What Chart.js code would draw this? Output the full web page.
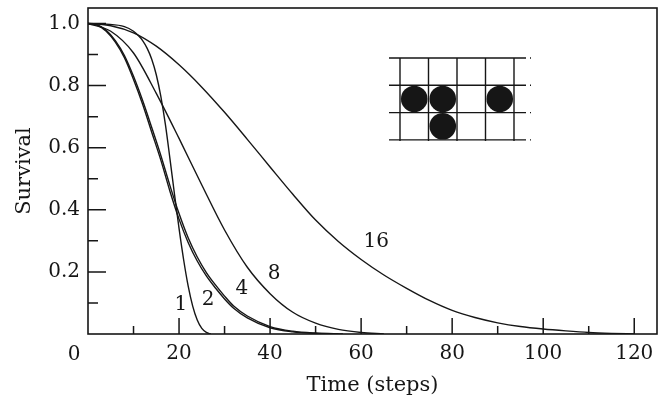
<!DOCTYPE html>
<html>
<head>
<meta charset="utf-8">
<script src="https://cdn.jsdelivr.net/npm/chart.js@4.4.1/dist/chart.umd.min.js"></script>
<style>
  html, body { margin: 0; padding: 0; background: #fff; }
</style>
</head>
<body>
<canvas id="chart" width="659" height="406"></canvas>
<script>
// survival vs. time, one curve per cluster size
const t1 = [0, 4, 8, 10, 11, 12, 13, 14, 15, 16, 17, 18, 19, 20, 21, 22, 23, 24, 25, 26, 27];
const s1 = [1.0, 0.998, 0.99, 0.975, 0.962, 0.945, 0.92, 0.885, 0.835, 0.765, 0.675, 0.565, 0.45, 0.34, 0.24, 0.155, 0.09, 0.045, 0.018, 0.005, 0];

const t2 = [0, 2, 4, 6, 8, 10, 12, 14, 16, 18, 20, 22, 24, 26, 28, 30, 32, 35, 40, 45, 50, 55];
const s2 = [1.0, 0.995, 0.975, 0.94, 0.89, 0.82, 0.74, 0.65, 0.56, 0.46, 0.37, 0.295, 0.235, 0.187, 0.148, 0.113, 0.083, 0.052, 0.02, 0.007, 0.002, 0];

const t4 = [0, 2, 4, 6, 8, 10, 12, 14, 16, 18, 20, 22, 24, 26, 28, 30, 32, 35, 40, 45, 50, 56];
const s4 = [1.0, 0.996, 0.978, 0.945, 0.897, 0.83, 0.752, 0.665, 0.575, 0.478, 0.388, 0.31, 0.248, 0.198, 0.158, 0.122, 0.09, 0.058, 0.024, 0.009, 0.003, 0];

const t8 = [0, 5, 10, 15, 20, 25, 30, 35, 40, 45, 50, 55, 60, 65];
const s8 = [1.0, 0.975, 0.905, 0.775, 0.63, 0.48, 0.335, 0.215, 0.13, 0.07, 0.035, 0.015, 0.005, 0];

const t16 = [0, 5, 10, 15, 20, 25, 30, 35, 40, 45, 50, 55, 60, 65, 70, 75, 80, 85, 90, 95, 100, 105, 110, 115, 120];
const s16 = [1.0, 0.993, 0.97, 0.927, 0.867, 0.795, 0.714, 0.627, 0.538, 0.45, 0.367, 0.298, 0.24, 0.19, 0.147, 0.108, 0.076, 0.053, 0.036, 0.024, 0.016, 0.01, 0.005, 0.002, 0];

const curveNames = ['1', '2', '4', '8', '16'];
const curveT = [t1, t2, t4, t8, t16];
const curveS = [s1, s2, s4, s8, s16];
// where each curve's name is written (time, survival)
const nameT = [20.4, 26.4, 33.8, 40.9, 63.3];
const nameS = [0.093, 0.109, 0.145, 0.193, 0.296];

const xMajor = [20, 40, 60, 80, 100, 120];
const xMinor = [10, 30, 50, 70, 90, 110];
const yMajor = [0.2, 0.4, 0.6, 0.8, 1.0];
const yMinor = [0.1, 0.3, 0.5, 0.7, 0.9];

// lattice sketch: 4 x 3 cells, filled cells as [col, row]
const latticeCols = 4, latticeRows = 3;
const filledCells = [[0, 1], [1, 1], [3, 1], [1, 2]];

const ink = '#161616';
const serif = 'DejaVu Serif';

const decorations = {
  id: 'decorations',
  afterDatasetsDraw(chart) {
    const { ctx, chartArea: a, scales: { x, y } } = chart;
    ctx.save();
    ctx.strokeStyle = ink;
    ctx.fillStyle = ink;

    // frame
    ctx.lineWidth = 1.6;
    ctx.strokeRect(a.left, a.top, a.right - a.left, a.bottom - a.top);

    // inward ticks
    ctx.lineWidth = 1.5;
    ctx.beginPath();
    xMajor.forEach(v => { const px = x.getPixelForValue(v); ctx.moveTo(px, a.bottom); ctx.lineTo(px, a.bottom - 16); });
    xMinor.forEach(v => { const px = x.getPixelForValue(v); ctx.moveTo(px, a.bottom); ctx.lineTo(px, a.bottom - 8); });
    yMajor.forEach(v => { const py = y.getPixelForValue(v); ctx.moveTo(a.left, py); ctx.lineTo(a.left + 18, py); });
    yMinor.forEach(v => { const py = y.getPixelForValue(v); ctx.moveTo(a.left, py); ctx.lineTo(a.left + 10, py); });
    ctx.stroke();

    // shared origin label
    ctx.font = '20px "' + serif + '"';
    ctx.textAlign = 'center';
    ctx.textBaseline = 'middle';
    ctx.fillText('0', x.getPixelForValue(0) - 14, a.bottom + 21);

    // curve names
    curveNames.forEach((n, i) => {
      ctx.fillText(n, x.getPixelForValue(nameT[i]), y.getPixelForValue(nameS[i]));
    });

    // lattice sketch in the upper right
    const cw = 28.5, ch = 27.3;
    const gx = a.left + 312, gy = a.top + 50;
    const gw = latticeCols * cw, gh = latticeRows * ch;
    ctx.lineWidth = 1.4;
    ctx.beginPath();
    for (let c = 0; c <= latticeCols; c++) {
      ctx.moveTo(gx + c * cw, gy);
      ctx.lineTo(gx + c * cw, gy + gh + 1);
    }
    for (let r = 0; r <= latticeRows; r++) {
      ctx.moveTo(gx - 5, gy + r * ch);
      ctx.lineTo(gx + gw + 6, gy + r * ch);
    }
    ctx.stroke();
    ctx.setLineDash([6, 4]);
    ctx.beginPath();
    for (let r = 0; r <= latticeRows; r++) {
      ctx.moveTo(gx - 5, gy + r * ch);
      ctx.lineTo(gx - 14, gy + r * ch);
      ctx.moveTo(gx + gw + 6, gy + r * ch);
      ctx.lineTo(gx + gw + 17, gy + r * ch);
    }
    ctx.stroke();
    ctx.setLineDash([]);
    filledCells.forEach(([c, r]) => {
      ctx.beginPath();
      ctx.arc(gx + (c + 0.5) * cw, gy + (r + 0.5) * ch, 13.3, 0, Math.PI * 2);
      ctx.fill();
    });

    ctx.restore();
  }
};

new Chart(document.getElementById('chart'), {
  type: 'line',
  data: {
    datasets: curveNames.map((n, i) => ({
      label: n,
      data: curveT[i].map((t, k) => ({ x: t, y: curveS[i][k] })),
      borderColor: ink,
      borderWidth: 1.4,
      pointRadius: 0,
      fill: false,
      cubicInterpolationMode: 'monotone'
    }))
  },
  options: {
    responsive: false,
    animation: false,
    layout: { padding: { top: 8, right: 2, left: 0, bottom: 0 } },
    plugins: { legend: { display: false }, tooltip: { enabled: false } },
    scales: {
      x: {
        type: 'linear',
        min: 0,
        max: 125,
        afterBuildTicks: s => { s.ticks = xMajor.map(v => ({ value: v })); },
        afterFit: s => { s.height = 72; s.paddingLeft = 0; s.paddingRight = 0; },
        grid: { display: false, drawTicks: false },
        border: { display: false },
        ticks: {
          padding: 8, maxRotation: 0, autoSkip: false, color: ink,
          font: { family: serif, size: 20 },
          callback: v => String(v)
        },
        title: {
          display: true, text: 'Time (steps)', color: ink,
          font: { family: serif, size: 21 },
          padding: { top: 0, bottom: 8 }
        }
      },
      y: {
        type: 'linear',
        min: 0,
        max: 1.05,
        afterBuildTicks: s => { s.ticks = yMajor.map(v => ({ value: v })); },
        afterFit: s => { s.width = 88; s.paddingTop = 0; s.paddingBottom = 0; },
        grid: { display: false, drawTicks: false },
        border: { display: false },
        ticks: {
          padding: 8, color: ink,
          font: { family: serif, size: 20 },
          callback: v => v.toFixed(1)
        },
        title: {
          display: true, text: 'Survival', color: ink,
          font: { family: serif, size: 21 },
          padding: { top: 12, bottom: 0 }
        }
      }
    }
  },
  plugins: [decorations]
});
</script>
</body>
</html>
